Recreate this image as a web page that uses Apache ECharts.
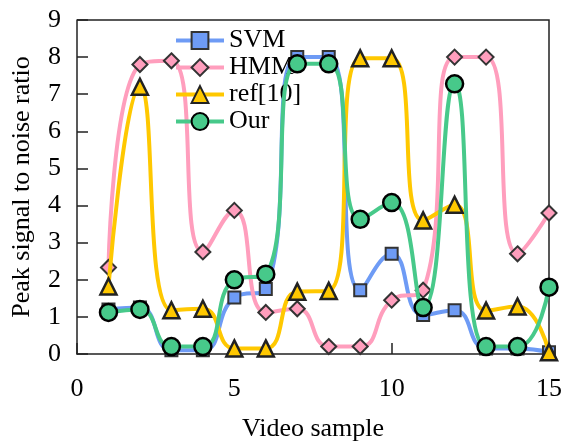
<!DOCTYPE html>
<html><head><meta charset="utf-8">
<script src="https://cdn.jsdelivr.net/npm/echarts@6/dist/echarts.min.js"></script>
<style>html,body{margin:0;padding:0;background:#fff}#c{width:563px;height:443px}</style>
</head><body><div id="c"></div>
<script>
const xs = [1,2,3,4,5,6,7,8,9,10,11,12,13,14,15];
const svm = [1.2,1.25,0.1,0.1,1.52,1.75,8.0,8.0,1.72,2.7,1.05,1.18,0.15,0.15,0.05];
const hmm = [2.33,7.8,7.9,2.75,3.87,1.12,1.22,0.2,0.2,1.45,1.72,8.0,8.0,2.7,3.8];
const ref10 = [1.82,7.2,1.18,1.22,0.15,0.15,1.68,1.7,7.97,7.97,3.6,4.02,1.17,1.28,0.05];
const our = [1.12,1.2,0.2,0.2,2.0,2.15,7.82,7.82,3.63,4.08,1.25,7.28,0.2,0.2,1.8];
const names = ['SVM','HMM','ref[10]','Our'];
const colors = ['#6e9bf5','#ff9ebd','#ffc800','#47c98a'];
const symbols = ['rect','diamond','triangle','circle'];
const sizes = [12,15,16,17];
const borders = ['#333','#333','#222','#000'];
const bw = [2,2,2.5,2.5];
const sets = [svm,hmm,ref10,our];
const font = 'Liberation Serif';
const chart = echarts.init(document.getElementById('c'));
chart.setOption({
  animation:false,
  grid:{left:77,top:20,right:14,bottom:89,containLabel:false,outerBoundsMode:'none',show:false},
  legend:{orient:'vertical',left:174,top:27,padding:0,itemWidth:48,itemHeight:21,itemGap:0,
    lineStyle:{width:4},
    textStyle:{fontFamily:font,fontSize:26,color:'#000',lineHeight:27},
    data:names.map((n,i)=>({name:n,lineStyle:{width:4,color:colors[i]}}))},
  xAxis:{type:'value',min:0,max:15,interval:5,
    name:'Video sample',nameLocation:'middle',nameGap:62,
    nameTextStyle:{fontFamily:font,fontSize:26,color:'#000'},
    axisLine:{onZero:false,lineStyle:{color:'#222',width:1.5}},
    axisTick:{inside:true,length:11,lineStyle:{color:'#222',width:1.5}},
    axisLabel:{fontFamily:font,fontSize:26,color:'#000',margin:22},
    splitLine:{show:false}},
  yAxis:{type:'value',min:0,max:9,interval:1,
    name:'Peak signal to noise ratio',nameLocation:'middle',nameGap:42,
    nameTextStyle:{fontFamily:font,fontSize:26,color:'#000'},
    axisLine:{lineStyle:{color:'#222',width:1.5}},
    axisTick:{inside:true,length:11,lineStyle:{color:'#222',width:1.5}},
    axisLabel:{fontFamily:font,fontSize:26,color:'#000',margin:16},
    splitLine:{show:false}},
  graphic:[{type:'polyline',shape:{points:[[77,20],[549,20],[549,354]]},style:{stroke:'#222',lineWidth:1.5,fill:null},z:0}],
  series:sets.map((d,i)=>({
    name:names[i],type:'line',smooth:0.5,
    data:xs.map((x,j)=>[x,d[j]]),
    symbol:symbols[i],symbolSize:sizes[i],
    lineStyle:{color:colors[i],width:4},
    itemStyle:{color:colors[i],borderColor:borders[i],borderWidth:bw[i],opacity:1},
    z:2+i
  }))
});
</script></body></html>
